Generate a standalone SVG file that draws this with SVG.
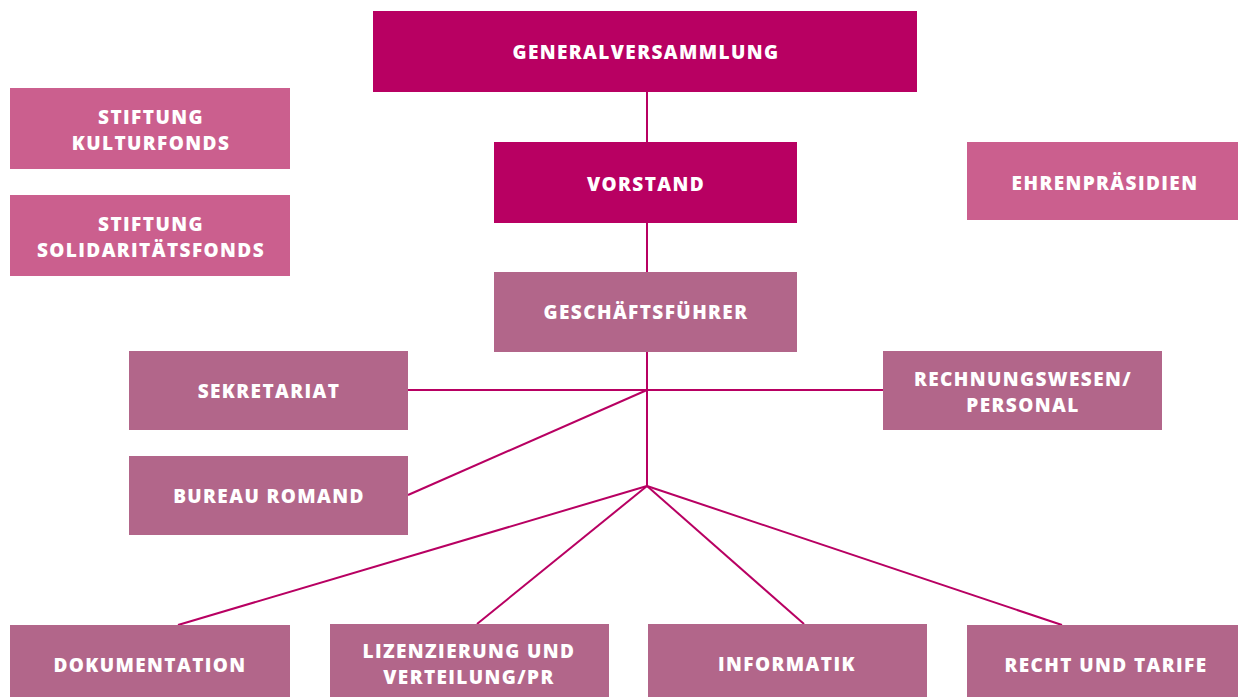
<svg xmlns="http://www.w3.org/2000/svg" width="1238" height="697" viewBox="0 0 1238 697">
<style>
.dk{fill:#B80062}
.pk{fill:#CB5F8E}
.mv{fill:#B2668A}
text{font-family:"Open Sans","Liberation Sans",sans-serif;font-weight:800;font-size:19px;letter-spacing:1.4px;fill:#FFFFFF;text-anchor:middle;dominant-baseline:central}
.c line{stroke:#B80062;stroke-width:2}
</style>
<rect width="1238" height="697" fill="#FFFFFF"/>
<g class="c" id="connectors">
<line x1="647" y1="92" x2="647" y2="486"/>
<line x1="408" y1="390" x2="883" y2="390"/>
<line x1="647" y1="390" x2="408" y2="495"/>
<line x1="647" y1="486" x2="178" y2="625"/>
<line x1="647" y1="486" x2="477" y2="624"/>
<line x1="647" y1="486" x2="804" y2="624"/>
<line x1="647" y1="486" x2="1062" y2="625"/>
</g>
<g id="generalversammlung"><rect class="dk" x="373" y="11" width="544" height="81"/><text x="646" y="52">GENERALVERSAMMLUNG</text></g>
<g id="vorstand"><rect class="dk" x="494" y="142" width="303" height="81"/><text x="646" y="184">VORSTAND</text></g>
<g id="geschaeftsfuehrer"><rect class="mv" x="494" y="272" width="303" height="80"/><text x="646" y="312">GESCHÄFTSFÜHRER</text></g>
<g id="kulturfonds"><rect class="pk" x="10" y="88" width="280" height="81"/><text x="151" y="117">STIFTUNG</text><text x="151" y="143">KULTURFONDS</text></g>
<g id="solidaritaetsfonds"><rect class="pk" x="10" y="195" width="280" height="81"/><text x="151" y="224">STIFTUNG</text><text x="151" y="250">SOLIDARITÄTSFONDS</text></g>
<g id="ehrenpraesidien"><rect class="pk" x="967" y="142" width="271" height="78"/><text x="1105" y="183">EHRENPRÄSIDIEN</text></g>
<g id="sekretariat"><rect class="mv" x="129" y="351" width="279" height="79"/><text x="269" y="391">SEKRETARIAT</text></g>
<g id="bureau"><rect class="mv" x="129" y="456" width="279" height="79"/><text x="269" y="496">BUREAU ROMAND</text></g>
<g id="rechnungswesen"><rect class="mv" x="883" y="351" width="279" height="79"/><text x="1023" y="379">RECHNUNGSWESEN/</text><text x="1023" y="405">PERSONAL</text></g>
<g id="dokumentation"><rect class="mv" x="10" y="625" width="280" height="72"/><text x="150" y="665">DOKUMENTATION</text></g>
<g id="lizenzierung"><rect class="mv" x="330" y="624" width="279" height="73"/><text x="469" y="651">LIZENZIERUNG UND</text><text x="469" y="677">VERTEILUNG/PR</text></g>
<g id="informatik"><rect class="mv" x="648" y="624" width="279" height="73"/><text x="787" y="664">INFORMATIK</text></g>
<g id="recht"><rect class="mv" x="967" y="625" width="271" height="72"/><text x="1106" y="665">RECHT UND TARIFE</text></g>
</svg>
